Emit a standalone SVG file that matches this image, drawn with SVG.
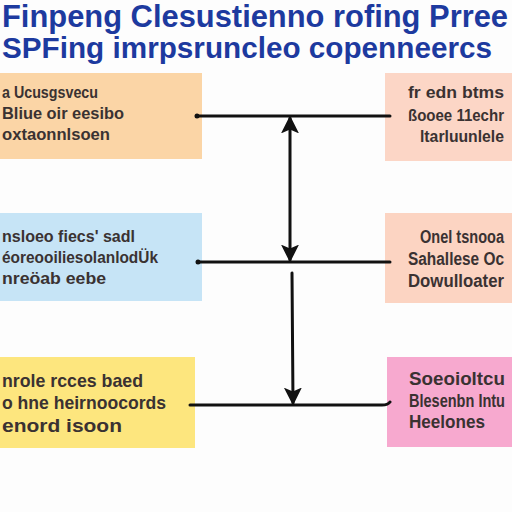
<svg xmlns="http://www.w3.org/2000/svg" width="512" height="512" viewBox="0 0 512 512">
<defs>
<style>
.title{font-family:"Liberation Sans","DejaVu Sans",sans-serif;font-weight:bold;fill:#1d3a9f}
.t{font-family:"Liberation Sans","DejaVu Sans",sans-serif;font-weight:bold;fill:#3a3232}
.ln{stroke:#111;stroke-width:3;fill:none;stroke-linecap:round}
</style>
<marker id="ah" viewBox="0 0 14 14" refX="12" refY="7" markerWidth="6" markerHeight="6" markerUnits="strokeWidth" orient="auto-start-reverse">
<path d="M0,0 L14,7 L0,14 L3,7 Z" fill="#111"/>
</marker>
</defs>
<rect width="512" height="512" fill="#fdfdfd"/>
<g id="title">
<text class="title" x="2" y="27" font-size="31" textLength="506" lengthAdjust="spacingAndGlyphs">Finpeng Clesustienno rofing Prree</text>
<text class="title" x="2" y="58" font-size="29" textLength="490" lengthAdjust="spacingAndGlyphs">SPFing imrpsruncleo copenneercs</text>
</g>
<g id="n1">
<rect x="0" y="73" width="202" height="86" fill="#fbd5a6"/>
<text class="t" x="2" y="98" font-size="16" textLength="96" lengthAdjust="spacingAndGlyphs">a Ucusgsvecu</text>
<text class="t" x="2" y="119" font-size="16" textLength="122" lengthAdjust="spacingAndGlyphs">Bliue oir eesibo</text>
<text class="t" x="2" y="140" font-size="16" textLength="108" lengthAdjust="spacingAndGlyphs">oxtaonnlsoen</text>
</g>
<g id="n2">
<rect x="385" y="73" width="127" height="88" fill="#fcd6c6"/>
<text class="t" x="408" y="98" font-size="17" textLength="96" lengthAdjust="spacingAndGlyphs">fr edn btms</text>
<text class="t" x="408" y="121" font-size="17" textLength="96" lengthAdjust="spacingAndGlyphs">ßooee 11echr</text>
<text class="t" x="420" y="142" font-size="17" textLength="84" lengthAdjust="spacingAndGlyphs">ltarluunlele</text>
</g>
<g id="n3">
<rect x="0" y="213" width="202" height="88" fill="#c6e4f6"/>
<text class="t" x="2" y="242" font-size="16" textLength="133" lengthAdjust="spacingAndGlyphs">nsloeo fiecs' sadl</text>
<text class="t" x="2" y="263" font-size="16" textLength="156" lengthAdjust="spacingAndGlyphs">éoreooiliesolanlodÜk</text>
<text class="t" x="2" y="284" font-size="16" textLength="104" lengthAdjust="spacingAndGlyphs">nreöab eebe</text>
</g>
<g id="n4">
<rect x="385" y="213" width="127" height="90" fill="#fcd4c2"/>
<text class="t" x="420" y="243" font-size="18" textLength="84" lengthAdjust="spacingAndGlyphs">Onel tsnooa</text>
<text class="t" x="408" y="265" font-size="18" textLength="96" lengthAdjust="spacingAndGlyphs">Sahallese Oc</text>
<text class="t" x="408" y="287" font-size="18" textLength="96" lengthAdjust="spacingAndGlyphs">Dowulloater</text>
</g>
<g id="n5">
<rect x="0" y="357" width="195" height="91" fill="#fde67e"/>
<text class="t" x="2" y="387" font-size="19" textLength="141" lengthAdjust="spacingAndGlyphs">nrole rcces baed</text>
<text class="t" x="2" y="409" font-size="19" textLength="164" lengthAdjust="spacingAndGlyphs">o hne heirnoocords</text>
<text class="t" x="2" y="432" font-size="19" textLength="120" lengthAdjust="spacingAndGlyphs">enord isoon</text>
</g>
<g id="n6">
<rect x="387" y="357" width="125" height="90" fill="#f7a9cf"/>
<text class="t" x="409" y="385" font-size="19" textLength="96" lengthAdjust="spacingAndGlyphs">Soeoioltcu</text>
<text class="t" x="409" y="407" font-size="19" textLength="96" lengthAdjust="spacingAndGlyphs">Blesenbn Intu</text>
<text class="t" x="409" y="428" font-size="19" textLength="76" lengthAdjust="spacingAndGlyphs">Heelones</text>
</g>
<g id="connectors">
<line class="ln" x1="197" y1="116" x2="390" y2="116"/>
<circle cx="197" cy="116" r="2.5" fill="#111"/>
<line class="ln" x1="198" y1="262" x2="390" y2="262"/>
<circle cx="198" cy="262" r="2.5" fill="#111"/>
<path class="ln" d="M190,405 L382,405 Q388,405 390,402"/>
<line class="ln" x1="290" y1="118" x2="290" y2="260" marker-start="url(#ah)" marker-end="url(#ah)"/>
<line class="ln" x1="292" y1="273" x2="293" y2="403" marker-end="url(#ah)"/>
</g>
</svg>
